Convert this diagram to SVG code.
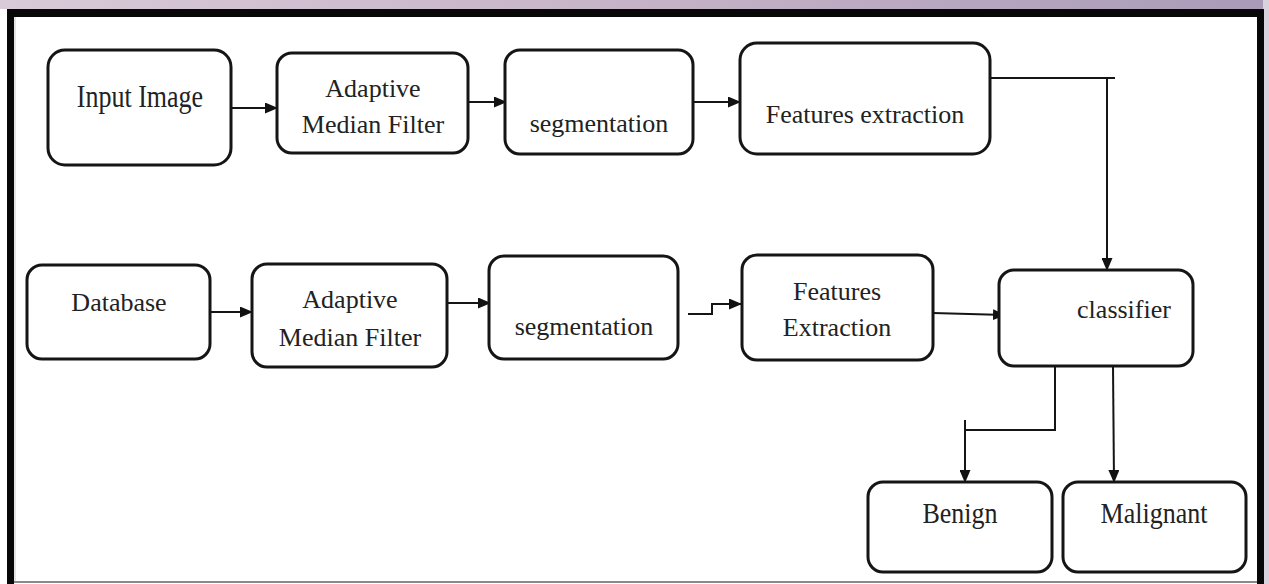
<svg xmlns="http://www.w3.org/2000/svg" width="1269" height="584" viewBox="0 0 1269 584">
  <defs>
    <linearGradient id="band" x1="0" y1="0" x2="1" y2="0">
      <stop offset="0" stop-color="#d9cbd8"/>
      <stop offset="0.5" stop-color="#c6b3c7"/>
      <stop offset="1" stop-color="#a99bb8"/>
    </linearGradient>
    <marker id="arr" markerWidth="13" markerHeight="11" refX="12" refY="5.5" orient="auto" markerUnits="userSpaceOnUse">
      <path d="M0,0 L13,5.5 L0,11 Z" fill="#111"/>
    </marker>
  </defs>
  <style>
    .box { fill: #fff; stroke: #151515; stroke-width: 3; }
    .lbl { font-family: 'Liberation Serif', 'Times New Roman', serif; font-size: 26px; fill: #222; text-anchor: middle; }
    .con { fill: none; stroke: #151515; stroke-width: 2; }
  </style>

  <!-- frame -->
  <rect x="0" y="0" width="1269" height="584" fill="#fff"/>
  <rect x="0" y="0" width="1269" height="9" fill="url(#band)"/>
  <rect x="1263" y="0" width="6" height="584" fill="#d8d2dc"/>
  <rect x="7" y="9" width="1257" height="8" fill="#080808"/>
  <rect x="7" y="9" width="7" height="575" fill="#080808"/>
  <rect x="1257" y="9" width="7" height="575" fill="#080808"/>
  <rect x="14" y="17" width="2" height="566" fill="#e4e4e4"/>
  <rect x="14" y="581" width="1243" height="2" fill="#8a8a8a"/>

  <!-- connectors -->
  <g id="connectors">
    <line class="con" x1="231" y1="108" x2="277" y2="108" marker-end="url(#arr)"/>
    <line class="con" x1="468" y1="102" x2="506" y2="102" marker-end="url(#arr)"/>
    <line class="con" x1="693" y1="102" x2="740" y2="102" marker-end="url(#arr)"/>
    <polyline class="con" points="990,78 1115,78"/>
    <line class="con" x1="1107" y1="78" x2="1107" y2="270" marker-end="url(#arr)"/>
    <line class="con" x1="210" y1="312" x2="252" y2="312" marker-end="url(#arr)"/>
    <line class="con" x1="447" y1="303" x2="490" y2="303" marker-end="url(#arr)"/>
    <polyline class="con" points="688,314 712,314 712,304 741,304" marker-end="url(#arr)"/>
    <line class="con" x1="933" y1="313" x2="1005" y2="315" marker-end="url(#arr)"/>
    <polyline class="con" points="1050,358 1055,358 1055,430 965,430"/>
    <line class="con" x1="965" y1="420" x2="965" y2="482" marker-end="url(#arr)"/>
    <line class="con" x1="1113" y1="366" x2="1114" y2="482" marker-end="url(#arr)"/>
  </g>

  <g id="input-image">
    <rect class="box" x="48" y="50" width="183" height="115" rx="17"/>
    <text class="lbl" transform="translate(140,107) scale(1,1.2)">Input Image</text>
  </g>
  <g id="amf-1">
    <rect class="box" x="277" y="53" width="191" height="100" rx="15"/>
    <text class="lbl" x="373" y="97">Adaptive</text>
    <text class="lbl" x="373" y="133">Median Filter</text>
  </g>
  <g id="seg-1">
    <rect class="box" x="505" y="50" width="188" height="104" rx="15"/>
    <text class="lbl" x="599" y="132">segmentation</text>
  </g>
  <g id="fe-1">
    <rect class="box" x="740" y="43" width="250" height="111" rx="17"/>
    <text class="lbl" x="865" y="123">Features extraction</text>
  </g>

  <g id="database">
    <rect class="box" x="27" y="265" width="183" height="94" rx="15"/>
    <text class="lbl" x="119" y="311">Database</text>
  </g>
  <g id="amf-2">
    <rect class="box" x="252" y="264" width="195" height="103" rx="15"/>
    <text class="lbl" x="350" y="308">Adaptive</text>
    <text class="lbl" x="350" y="346">Median Filter</text>
  </g>
  <g id="seg-2">
    <rect class="box" x="489" y="256" width="189" height="103" rx="15"/>
    <text class="lbl" x="584" y="335">segmentation</text>
  </g>
  <g id="fe-2">
    <rect class="box" x="742" y="255" width="191" height="105" rx="15"/>
    <text class="lbl" x="837" y="300">Features</text>
    <text class="lbl" x="837" y="336">Extraction</text>
  </g>
  <g id="classifier">
    <rect class="box" x="999" y="270" width="194" height="96" rx="15"/>
    <text class="lbl" x="1124" y="318">classifier</text>
  </g>
  <g id="benign">
    <rect class="box" x="868" y="482" width="184" height="90" rx="15"/>
    <text class="lbl" transform="translate(960,523) scale(1,1.1)">Benign</text>
  </g>
  <g id="malignant">
    <rect class="box" x="1063" y="482" width="183" height="90" rx="15"/>
    <text class="lbl" transform="translate(1154,523) scale(1,1.1)">Malignant</text>
  </g>
</svg>
